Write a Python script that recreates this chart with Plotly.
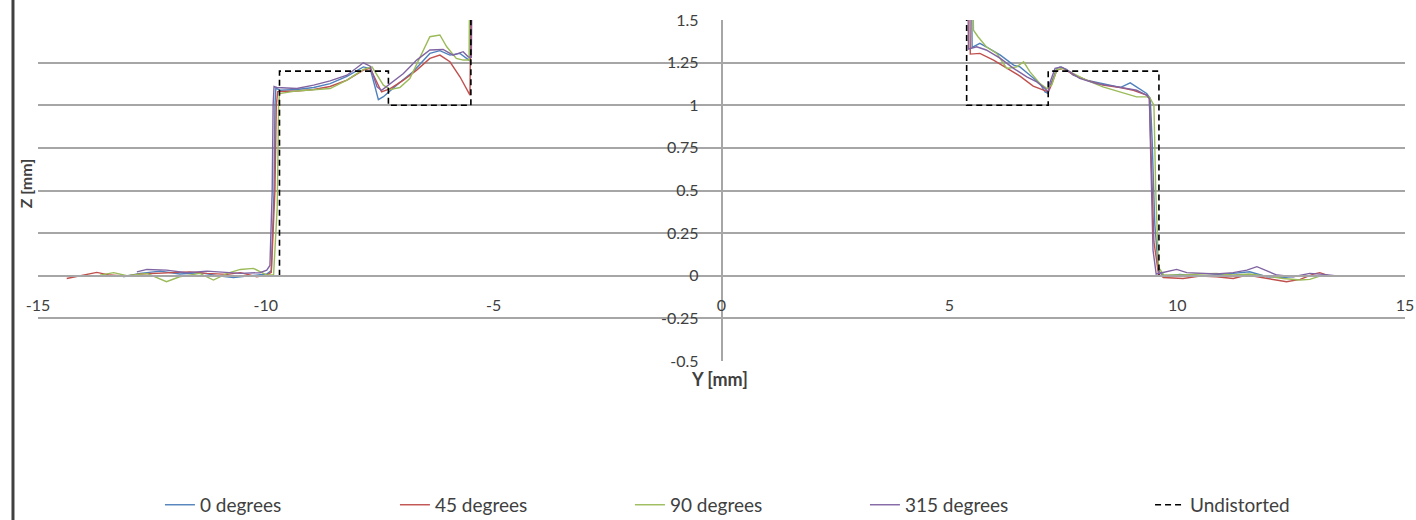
import plotly.graph_objects as go

# ---------------- data ----------------
blue_x = [-13.13, -12.76, -12.32, -11.89, -11.45, -11.0, -10.71, -10.27, -9.98, -9.88, -9.82, -9.8, -9.78,
          -9.69, -9.32, -8.95, -8.59, -8.22, -7.86, -7.71, -7.6, -7.53, -7.42, -7.13, -6.77, -6.4, -6.18,
          -5.96, -5.74, -5.6, -5.52, -5.51,
          5.49, 5.5, 5.67, 5.81, 6.12, 6.41, 6.55, 6.77, 6.99, 7.1, 7.17, 7.19, 7.36, 7.43, 7.57, 7.72,
          8.01, 8.37, 8.75, 8.97, 9.11, 9.33, 9.41, 9.45, 9.51, 9.59, 9.7, 10.06, 10.5, 10.86, 11.23, 11.59,
          11.97, 12.33, 12.62, 12.7]
blue_y = [-0.006, 0.014, 0.027, 0.01, 0.018, -0.002, -0.01, 0.004, 0.01, 0.03, 0.5, 1.0, 1.1,
          1.088, 1.092, 1.104, 1.127, 1.17, 1.225, 1.215, 1.11, 1.033, 1.05, 1.118, 1.196, 1.304, 1.32,
          1.294, 1.304, 1.275, 1.26, 1.6,
          1.6, 1.34, 1.363, 1.343, 1.294, 1.235, 1.225, 1.176, 1.127, 1.078, 1.069, 1.1, 1.216, 1.225, 1.21, 1.176,
          1.147, 1.127, 1.104, 1.131, 1.108, 1.069, 1.039, 0.8, 0.3, 0.03, -0.002, 0.008, -0.002, 0.004, 0.014, 0.023,
          -0.006, -0.01, -0.002, 0.0]

red_x = [-14.37, -14.08, -13.71, -13.42, -13.05, -12.76, -12.32, -12.03, -11.67, -11.29, -10.85, -10.56,
         -10.2, -9.98, -9.88, -9.8, -9.77, -9.74, -9.69, -9.32, -8.95, -8.59, -8.22, -7.86, -7.71, -7.56,
         -7.46, -7.27, -6.98, -6.69, -6.4, -6.18, -5.96, -5.74, -5.6, -5.52, -5.5,
         5.45, 5.46, 5.67, 5.97, 6.26, 6.55, 6.84, 7.06, 7.17, 7.21, 7.36, 7.5, 7.72, 8.01, 8.37, 8.75,
         9.04, 9.33, 9.39, 9.43, 9.49, 9.59, 9.7, 10.13, 10.5, 10.86, 11.23, 11.53, 11.82, 12.11, 12.4,
         12.7, 12.99, 13.13, 13.35, 13.42]
red_y = [-0.016, -0.002, 0.02, 0.004, -0.002, 0.01, 0.014, 0.018, 0.023, 0.014, 0.008, 0.018,
         -0.006, 0.004, 0.02, 0.5, 1.0, 1.08, 1.08, 1.084, 1.092, 1.11, 1.147, 1.206, 1.216, 1.127,
         1.078, 1.098, 1.147, 1.206, 1.275, 1.294, 1.255, 1.167, 1.098, 1.059, 1.6,
         1.6, 1.3, 1.304, 1.265, 1.216, 1.171, 1.112, 1.088, 1.078, 1.1, 1.206, 1.216, 1.18, 1.147, 1.118, 1.104,
         1.088, 1.059, 1.04, 0.7, 0.2, 0.01, -0.01, -0.016, -0.002, -0.006, -0.016, 0.004, -0.01, -0.025, -0.035,
         -0.021, 0.01, 0.018, -0.002, 0.0]

green_x = [-13.64, -13.34, -13.05, -12.61, -12.18, -11.89, -11.45, -11.15, -10.85, -10.56, -10.27, -9.98,
           -9.83, -9.75, -9.72, -9.7, -9.32, -8.95, -8.59, -8.22, -7.86, -7.67, -7.56, -7.42, -7.27, -7.06,
           -6.84, -6.62, -6.4, -6.18, -6.03, -5.82, -5.67, -5.54, -5.53,
           5.52, 5.53, 5.63, 5.81, 6.04, 6.26, 6.48, 6.63, 6.77, 6.99, 7.14, 7.25, 7.36, 7.5, 7.79, 8.01,
           8.37, 8.75, 9.11, 9.39, 9.49, 9.53, 9.59, 9.7, 10.13, 10.5, 10.86, 11.23, 11.59, 11.97, 12.33,
           12.7, 12.91, 13.13, 13.21]
green_y = [0.004, 0.018, 0.0, 0.014, -0.035, -0.006, 0.014, -0.025, 0.014, 0.037, 0.043, 0.004,
           0.005, 0.4, 1.0, 1.069, 1.084, 1.092, 1.098, 1.147, 1.21, 1.225, 1.176, 1.118, 1.092, 1.104,
           1.157, 1.284, 1.402, 1.412, 1.343, 1.275, 1.265, 1.265, 1.6,
           1.6, 1.44, 1.402, 1.343, 1.304, 1.216, 1.225, 1.255, 1.196, 1.127, 1.098, 1.12, 1.21, 1.216, 1.176, 1.147,
           1.108, 1.078, 1.049, 1.049, 1.0, 0.5, 0.05, 0.006, 0.004, 0.01, 0.014, 0.004, 0.01, -0.002, -0.016,
           -0.025, -0.021, -0.002, 0.0]

purple_x = [-12.83, -12.61, -12.18, -11.74, -11.29, -10.85, -10.56, -10.13, -9.98, -9.91, -9.86, -9.84,
            -9.82, -9.76, -9.32, -8.95, -8.59, -8.22, -7.86, -7.71, -7.56, -7.46, -7.27, -6.98, -6.69, -6.4,
            -6.11, -5.89, -5.67, -5.56, -5.49, -5.48,
            5.41, 5.42, 5.6, 5.81, 6.12, 6.41, 6.7, 6.92, 7.1, 7.17, 7.19, 7.32, 7.46, 7.65, 7.86, 8.23,
            8.6, 8.9, 9.11, 9.33, 9.39, 9.42, 9.47, 9.54, 9.77, 9.99, 10.21, 10.5, 10.86, 11.23, 11.53,
            11.75, 11.97, 12.19, 12.55, 12.91, 13.21, 13.43, 13.46]
purple_y = [0.023, 0.037, 0.033, 0.018, 0.027, 0.018, 0.014, 0.018, 0.033, 0.06, 0.5, 1.0,
            1.11, 1.104, 1.098, 1.118, 1.143, 1.176, 1.249, 1.229, 1.108, 1.088, 1.127, 1.186, 1.265, 1.324,
            1.327, 1.294, 1.314, 1.284, 1.28, 1.6,
            1.6, 1.33, 1.343, 1.324, 1.275, 1.216, 1.167, 1.137, 1.098, 1.078, 1.12, 1.216, 1.225, 1.196, 1.157, 1.127,
            1.112, 1.098, 1.088, 1.059, 1.04, 0.7, 0.15, 0.01, 0.023, 0.037, 0.018, 0.014, 0.01, 0.018, 0.033,
            0.053, 0.029, 0.004, -0.006, 0.014, 0.008, -0.002, 0.0]

undist_x = [-12.99, -9.7, -9.7, -7.31, -7.31, -5.5, -5.5, 5.38, 5.38, 7.17, 7.17, 9.6, 9.6, 13.0]
undist_y = [0.0, 0.0, 1.2, 1.2, 1.0, 1.0, 1.6, 1.6, 1.0, 1.0, 1.2, 1.2, 0.0, 0.0]

series_names = ["0 degrees", "45 degrees", "90 degrees", "315 degrees", "Undistorted"]
series_colors = ["#4F81BD", "#C0504D", "#9BBB59", "#8064A2", "#000000"]

x_ticks = [-15, -10, -5, 0, 5, 10, 15]
x_ticktext = ["-15", "-10", "-5", "0", "5", "10", "15"]
y_ticks = [-0.5, -0.25, 0, 0.25, 0.5, 0.75, 1, 1.25, 1.5]
y_ticktext = ["-0.5", "-0.25", "0", "0.25", "0.5", "0.75", "1", "1.25", "1.5"]

# ---------------- figure ----------------
FONT = "Lato, 'Open Sans', sans-serif"
TXT = "#404040"
GRID = "#a6a6a6"

fig = go.Figure()
data = [(blue_x, blue_y), (red_x, red_y), (green_x, green_y), (purple_x, purple_y)]
for (xs, ys), name, col in zip(data, series_names[:4], series_colors[:4]):
    fig.add_trace(go.Scatter(x=xs, y=ys, mode="lines", name=name, legend="legend",
                             line=dict(color=col, width=1.4)))
fig.add_trace(go.Scatter(x=undist_x, y=undist_y, mode="lines", name=series_names[4],
                         legend="legend2",
                         line=dict(color=series_colors[4], width=1.6, dash="6px,4px")))

legend_common = dict(orientation="h", y=-0.422, xanchor="left", yanchor="middle",
                     font=dict(size=19, color=TXT), bgcolor="rgba(0,0,0,0)")

fig.update_layout(
    width=1416, height=520,
    margin=dict(l=38, r=11, t=19.5, b=159, autoexpand=False),
    paper_bgcolor="white", plot_bgcolor="white",
    font=dict(family=FONT, color=TXT, size=16),
    xaxis=dict(range=[-15, 15], anchor="free", position=0.25, showline=True,
               linecolor=GRID, linewidth=1.5, showgrid=False, zeroline=False,
               tickmode="array", tickvals=x_ticks, ticktext=x_ticktext, ticks="",
               ticklabelstandoff=15, ticklabeloverflow="allow",
               tickfont=dict(size=16, color=TXT)),
    yaxis=dict(range=[-0.5, 1.5], anchor="free", position=0.5, showline=True,
               linecolor=GRID, linewidth=1.5, showgrid=True, gridcolor=GRID,
               gridwidth=1.5, zeroline=False, tickmode="array", tickvals=y_ticks,
               ticktext=y_ticktext, ticks="", ticklabelstandoff=19,
               ticklabeloverflow="allow", tickfont=dict(size=16, color=TXT)),
    legend=dict(x=0.0892, entrywidth=190, entrywidthmode="pixels", **legend_common),
    legend2=dict(x=0.8135, **legend_common),
    annotations=[
        dict(text="<b>Z [mm]</b>", x=-0.0095, y=0.521, xref="paper", yref="paper",
             xanchor="center", yanchor="middle",
             textangle=-90, showarrow=False, font=dict(size=16, color=TXT)),
        dict(text="<b>Y [mm]</b>", x=0.4985, y=-0.053, xref="paper", yref="paper",
             xanchor="center", yanchor="middle",
             showarrow=False, font=dict(size=18, color=TXT)),
    ],
    shapes=[dict(type="line", xref="paper", yref="paper", x0=-0.0183, x1=-0.0183,
                 y0=-0.47, y1=1.06, line=dict(color="#404040", width=3))],
)

fig.write_html("out.html", config={"displayModeBar": False},
               post_script="document.body.style.margin='0';")
